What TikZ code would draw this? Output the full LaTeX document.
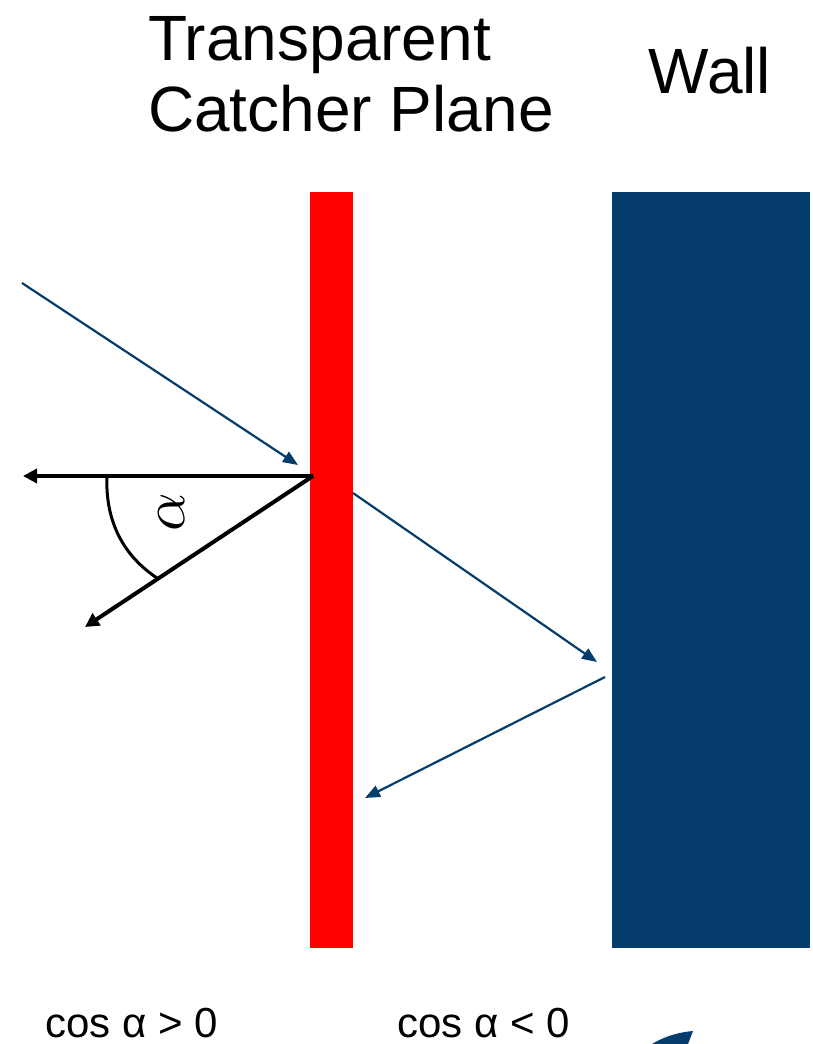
\documentclass[tikz,border=0pt]{standalone}
\usepackage{fontspec}
\setmainfont{Liberation Sans}
\usetikzlibrary{arrows.meta}
\definecolor{wallblue}{RGB}{4,60,107}
\definecolor{catred}{RGB}{255,0,0}
\begin{document}
\begin{tikzpicture}[x=1pt,y=-1pt,
  ray/.style={draw=wallblue,line width=2.2pt,-{Triangle[length=15pt,width=12pt]}},
  vec/.style={draw=black,line width=4pt,-{Triangle[length=14pt,width=14pt]}},
  title/.style={font=\fontsize{64}{71}\selectfont,inner sep=0pt},
  label/.style={font=\fontsize{42}{48}\selectfont,inner sep=0pt}]
\useasboundingbox (0,0) rectangle (812,1044);
% catcher plane and wall
\fill[catred] (310,192) rectangle (353,948);
\fill[wallblue] (612,192) rectangle (810,948);
\node[title,anchor=base west,align=left] (t1) at (148,131) {Transparent\\Catcher Plane};
\node[title,anchor=base] (wall) at (710,93) {Wall};
% coordinates
\coordinate (r1s) at (22,283);
\coordinate (r1e) at (298,465);
\coordinate (r2s) at (353,493);
\coordinate (r2e) at (597,662);
\coordinate (r3s) at (605,677);
\coordinate (r3e) at (365,798);
\coordinate (v) at (313,476);
\coordinate (v1) at (23,476);
\coordinate (v2) at (85,627);
\draw[ray] (r1s) -- (r1e);
\draw[ray] (r2s) -- (r2e);
\draw[ray] (r3s) -- (r3e);
\draw[vec] (v) -- (v1);
\draw[vec] (v) -- (v2);
\draw[line width=3pt] (107,476) .. controls (105,522) and (124,556) .. (157,578);
\node[inner sep=0pt,rotate=90,scale=6] (alpha) at (172,512) {$\mathbf{\alpha}$};
\node[label,anchor=base west] (c1) at (45,1037) {cos α > 0};
\node[label,anchor=base west] (c2) at (397,1037) {cos α < 0};
\fill[wallblue] (652,1044) .. controls (665,1036) and (680,1032) .. (693,1031) -- (688,1044) -- cycle;
\end{tikzpicture}
\end{document}
